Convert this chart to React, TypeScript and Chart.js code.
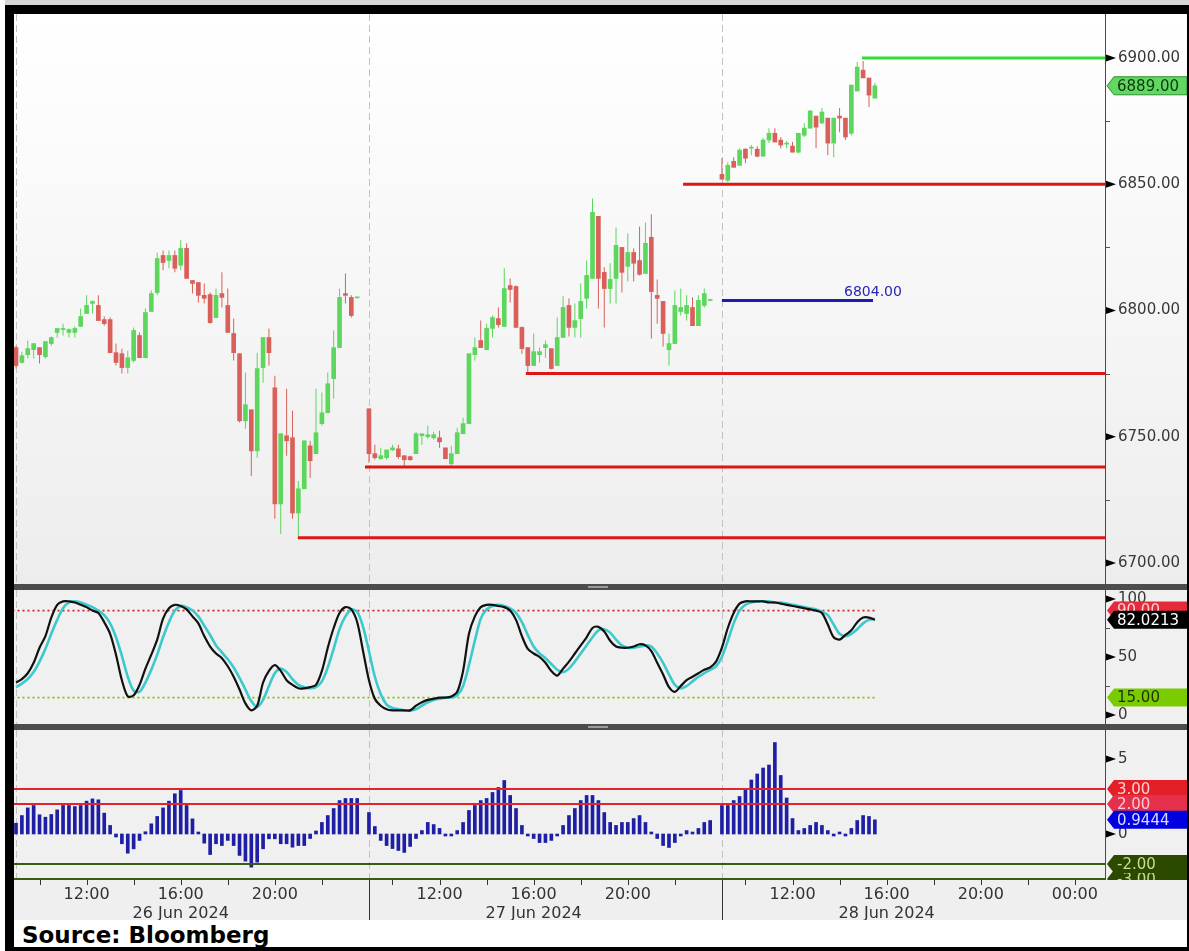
import React, { useEffect, useRef } from 'react';
import { Chart, registerables } from 'chart.js';

Chart.register(...registerables);

const FONT = '"DejaVu Sans", "Liberation Sans", sans-serif';

// ---- time axis (trading hours from 26 Jun 09:00, 15h sessions) ----
const HOURS_PER_BAR = 0.25;
const X_MIN = -0.085;
const X_MAX = 46.28;
const DAY_STARTS = [0, 15, 30];
const DAY_BREAKS = [15, 30];
const X_TICKS = [3, 7, 11, 18, 22, 26, 33, 37, 41, 45];
const X_TIME_LABELS = ['12:00', '16:00', '20:00', '12:00', '16:00', '20:00', '12:00', '16:00', '20:00', '00:00'];
const X_DATE_LABELS = ['', '26 Jun 2024', '', '', '27 Jun 2024', '', '', '28 Jun 2024', '', ''];
const X_MINOR = [1, 3, 5, 7, 9, 11, 13, 16, 18, 20, 22, 24, 26, 28, 31, 33, 35, 37, 39, 41, 43, 45];

// ---- candles (15 min) ----
const OPEN = [
  6785.3, 6779.4, 6782.5, 6784.5, 6785.3, 6781.7, 6786.9, 6791.3, 6792.5, 6791.3,
  6791.3, 6793.7, 6798.8, 6802.8, 6802.0, 6796.4, 6796.4, 6783.3, 6782.9, 6777.4,
  6780.2, 6790.1, 6781.3, 6799.6, 6807.1, 6821.8, 6819.8, 6821.8, 6817.9, 6824.6,
  6811.9, 6811.1, 6806.0, 6806.3, 6797.2, 6806.7, 6802.0, 6790.9, 6782.9, 6756.3,
  6760.7, 6744.4, 6777.4, 6789.3, 6769.4, 6723.4, 6750.4, 6749.6, 6719.8, 6729.4,
  6746.4, 6743.3, 6755.2, 6759.5, 6773.0, 6785.3, 6806.7, 6805.2, 6805.0, null,
  6761.1, 6743.3, 6741.3, 6741.7, 6744.8, 6745.2, 6742.5, 6742.1, 6743.3, 6750.4,
  6750.0, 6749.6, 6749.6, 6745.6, 6739.3, 6743.3, 6751.2, 6755.2, 6782.5, 6788.1,
  6784.5, 6792.9, 6796.8, 6793.7, 6809.9, 6809.5, 6793.3, 6785.3, 6778.2, 6782.5,
  6785.3, 6784.9, 6778.2, 6789.3, 6802.0, 6793.3, 6796.8, 6804.8, 6812.7, 6837.3,
  6815.1, 6808.7, 6812.7, 6825.0, 6817.5, 6823.0, 6819.8, 6814.7, 6829.0, 6806.0,
  6803.6, 6784.5, 6786.9, 6799.6, 6798.8, 6801.2, 6794.0, 6802.0, 6804.0, null,
  6853.9, 6851.6, 6859.1, 6857.5, 6863.9, 6864.3, 6863.9, 6861.1, 6867.5, 6870.2,
  6867.5, 6865.9, 6865.1, 6862.7, 6869.4, 6872.2, 6877.0, 6874.2, 6876.2, 6866.3,
  6877.0, 6876.2, 6870.2, 6886.9, 6895.2, 6892.1, 6884.1,
];
const HIGH = [
  6786.0, 6783.7, 6788.1, 6786.9, 6785.3, 6787.7, 6789.7, 6792.9, 6794.8, 6792.9,
  6793.7, 6800.8, 6806.0, 6804.0, 6806.0, 6797.6, 6797.2, 6786.9, 6784.9, 6784.1,
  6793.3, 6791.3, 6800.8, 6808.0, 6823.0, 6823.8, 6823.8, 6823.8, 6827.8, 6826.6,
  6811.9, 6811.1, 6810.7, 6807.1, 6808.7, 6815.1, 6808.7, 6796.8, 6782.9, 6775.4,
  6760.7, 6783.3, 6789.3, 6792.9, 6774.2, 6751.2, 6769.0, 6760.3, 6732.5, 6748.4,
  6748.4, 6769.0, 6767.5, 6775.4, 6792.1, 6808.7, 6814.7, 6806.0, 6805.4, null,
  6761.1, 6746.8, 6745.6, 6744.8, 6746.8, 6746.8, 6742.5, 6742.5, 6752.0, 6751.2,
  6754.4, 6752.0, 6752.4, 6745.6, 6746.4, 6753.6, 6757.5, 6782.9, 6789.3, 6796.0,
  6794.8, 6798.0, 6801.2, 6816.7, 6812.7, 6809.9, 6793.7, 6785.3, 6790.9, 6785.3,
  6788.1, 6784.9, 6797.2, 6805.6, 6804.8, 6802.8, 6810.7, 6819.8, 6844.4, 6837.3,
  6817.1, 6818.7, 6832.9, 6825.0, 6830.6, 6824.6, 6833.3, 6834.9, 6838.1, 6812.3,
  6803.6, 6790.9, 6807.9, 6808.7, 6806.0, 6805.2, 6806.0, 6808.7, 6804.6, null,
  6860.3, 6858.7, 6860.7, 6864.3, 6864.3, 6865.5, 6865.1, 6868.3, 6872.2, 6872.2,
  6868.7, 6867.1, 6866.7, 6870.2, 6874.2, 6879.4, 6877.0, 6880.2, 6876.2, 6876.2,
  6880.2, 6876.2, 6889.3, 6898.4, 6898.8, 6892.1, 6890.1,
];
const LOW = [
  6777.0, 6779.0, 6781.0, 6781.0, 6779.0, 6781.0, 6786.0, 6789.3, 6790.1, 6789.3,
  6789.3, 6793.7, 6798.8, 6798.8, 6796.0, 6794.0, 6783.3, 6778.2, 6775.0, 6775.0,
  6779.4, 6781.3, 6781.3, 6799.6, 6806.0, 6815.9, 6816.7, 6815.1, 6815.9, 6812.7,
  6806.7, 6803.2, 6802.8, 6794.8, 6797.2, 6801.2, 6791.3, 6780.2, 6755.6, 6753.2,
  6734.5, 6741.7, 6771.4, 6778.2, 6717.5, 6711.5, 6742.5, 6717.5, 6709.5, 6729.4,
  6733.7, 6743.3, 6754.4, 6759.5, 6765.0, 6785.3, 6802.8, 6797.2, 6804.8, null,
  6739.7, 6740.9, 6740.9, 6740.9, 6744.4, 6741.3, 6738.5, 6740.5, 6743.3, 6746.8,
  6749.2, 6748.8, 6745.6, 6741.3, 6738.5, 6743.3, 6751.2, 6755.2, 6780.2, 6785.3,
  6784.5, 6789.3, 6793.3, 6793.7, 6803.2, 6793.3, 6782.9, 6775.0, 6778.2, 6779.4,
  6781.3, 6776.6, 6778.2, 6789.3, 6789.7, 6789.3, 6789.3, 6800.8, 6812.7, 6800.8,
  6793.3, 6802.8, 6802.8, 6807.1, 6811.5, 6811.5, 6813.9, 6814.7, 6788.9, 6794.8,
  6785.7, 6778.2, 6786.9, 6798.0, 6796.0, 6794.0, 6794.0, 6801.2, 6803.6, null,
  6852.0, 6850.8, 6856.7, 6857.5, 6858.3, 6861.5, 6860.7, 6861.1, 6866.3, 6866.7,
  6864.3, 6864.3, 6862.7, 6862.3, 6868.7, 6872.2, 6864.3, 6874.2, 6861.5, 6860.7,
  6870.6, 6867.5, 6869.4, 6886.9, 6892.1, 6880.6, 6884.1,
];
const CLOSE = [
  6778.2, 6782.1, 6784.9, 6786.9, 6782.5, 6787.7, 6789.3, 6792.9, 6792.9, 6792.5,
  6792.9, 6797.6, 6802.0, 6803.6, 6796.0, 6794.8, 6783.3, 6779.4, 6777.4, 6781.3,
  6792.1, 6781.3, 6799.2, 6806.7, 6820.6, 6819.0, 6821.8, 6816.7, 6824.6, 6812.7,
  6810.7, 6806.0, 6804.8, 6795.2, 6806.0, 6805.2, 6791.3, 6783.3, 6756.3, 6762.7,
  6744.4, 6777.0, 6789.3, 6783.3, 6723.4, 6751.2, 6748.4, 6719.8, 6729.4, 6748.4,
  6740.5, 6751.6, 6759.5, 6771.0, 6785.3, 6805.2, 6806.0, 6798.0, 6805.2, null,
  6743.3, 6741.7, 6742.5, 6744.8, 6745.6, 6742.1, 6740.9, 6740.9, 6751.2, 6751.2,
  6750.8, 6750.8, 6748.0, 6741.3, 6743.3, 6751.6, 6755.2, 6782.9, 6785.3, 6785.3,
  6792.9, 6797.2, 6794.4, 6808.7, 6808.3, 6793.3, 6784.9, 6778.2, 6783.7, 6783.7,
  6786.5, 6777.0, 6789.3, 6801.2, 6793.3, 6796.0, 6803.6, 6813.9, 6838.9, 6812.7,
  6808.7, 6812.3, 6825.8, 6815.1, 6823.0, 6818.7, 6814.3, 6826.6, 6807.5, 6804.8,
  6790.9, 6786.9, 6802.0, 6801.2, 6802.0, 6794.0, 6804.0, 6806.7, 6804.2, null,
  6852.0, 6857.5, 6856.7, 6863.5, 6860.3, 6864.7, 6861.1, 6867.5, 6870.2, 6866.7,
  6865.5, 6866.3, 6862.7, 6870.2, 6872.2, 6879.0, 6872.6, 6878.6, 6866.3, 6876.2,
  6876.2, 6868.7, 6889.3, 6896.4, 6892.1, 6885.3, 6889.0,
];

// ---- horizontal levels on the price panel ----
const LEVEL_PRICES = [6900, 6850, 6804, 6775, 6738, 6710];
const LEVEL_FROM = [35.95, 28.35, 30.0, 21.67, 14.83, 11.98];
const LEVEL_TO = [47, 47, 36.42, 47, 47, 47];
const LEVEL_KIND = ['high', 'support', 'last', 'support', 'support', 'support'];
const LEVEL_LABEL_TEXT = '6804.00';
const PRICE_TICKS = [6700, 6750, 6800, 6850, 6900];
const PRICE_MINOR = [6725, 6775, 6825, 6875];
const LAST_PRICE = 6889;

// ---- stochastic ----
const STOCH_K = [
  28, 31, 36, 45, 58, 68, 84, 95, 98, 98, 97, 95, 93, 90, 88, 80, 70, 52, 30, 16,
  17, 26, 40, 52, 65, 83, 92, 95, 94, 91, 85, 79, 68, 59, 53, 49, 42, 33, 22, 10,
  4, 8, 28, 38, 43, 38, 30, 26, 23, 23, 24, 26, 38, 58, 75, 88, 93, 91, 80, 55,
  30, 14, 8, 5, 4, 4, 4, 4, 8, 11, 13, 14, 15, 15, 16, 20, 38, 70, 85, 93,
  95, 95, 94, 93, 90, 82, 68, 57, 53, 50, 45, 38, 34, 40, 46, 53, 60, 67, 75, 76,
  72, 64, 59, 58, 58, 59, 61, 60, 55, 45, 35, 24, 20, 25, 30, 33, 36, 39, 41, 46,
  58, 75, 88, 96, 98, 98, 98, 98, 97, 97, 96, 95, 94, 93, 92, 91, 90, 88, 78, 67,
  65, 69, 73, 80, 84, 84, 82.02,
];
const STOCH_D = [
  24, 27, 31, 37, 46, 57, 70, 82, 92, 97, 98, 97, 95, 93, 90, 86, 79, 67, 51, 33,
  21, 20, 28, 39, 52, 67, 80, 90, 94, 93, 90, 85, 77, 69, 60, 54, 48, 41, 32, 22,
  12, 7, 13, 25, 36, 40, 37, 31, 26, 24, 23, 24, 29, 41, 57, 74, 85, 91, 89, 76,
  55, 33, 18, 9, 6, 5, 4, 4, 5, 8, 11, 13, 14, 15, 15, 17, 25, 43, 64, 83,
  91, 94, 95, 94, 92, 88, 80, 69, 59, 53, 49, 44, 39, 37, 40, 46, 53, 60, 67, 73,
  74, 71, 65, 60, 58, 58, 59, 60, 59, 53, 45, 35, 26, 23, 25, 29, 33, 36, 39, 42,
  50, 64, 79, 90, 95, 97, 98, 98, 98, 97, 97, 96, 95, 94, 93, 92, 91, 89, 86, 78,
  70, 68, 70, 74, 79, 82, 83,
];
const STOCH_TICKS = [0, 50, 100];
const STOCH_MINOR = [25, 75];
const STOCH_UPPER = 90;
const STOCH_LOWER = 15;
const STOCH_LINE_END = 36.5;
const STOCH_LAST_TEXT = '82.0213';

// ---- histogram oscillator ----
const HIST = [
  0.72, 1.23, 1.74, 1.9, 1.28, 1.12, 1.3, 1.61, 1.9, 1.9,
  1.83, 1.9, 2.19, 2.34, 2.28, 1.39, 0.57, -0.2, -0.65, -1.28,
  -0.99, -0.43, 0.15, 0.68, 1.17, 1.74, 2.19, 2.68, 2.9, 1.9,
  1.01, 0.05, -0.61, -1.37, -0.65, -0.77, -0.43, -0.77, -1.43, -1.81,
  -2.21, -1.88, -0.99, -0.32, -0.32, -0.65, -0.65, -0.88, -0.77, -0.77,
  -0.3, 0.2, 0.77, 1.23, 1.7, 2.23, 2.37, 2.37, 2.37, null,
  1.43, 0.5, -0.43, -0.77, -0.97, -1.1, -1.23, -0.83, -0.3, 0.23,
  0.77, 0.63, 0.37, -0.1, -0.1, 0.23, 0.77, 1.57, 1.9, 2.23,
  2.37, 2.77, 3.1, 3.57, 2.57, 1.7, 0.57, -0.1, -0.3, -0.57,
  -0.57, -0.43, -0.1, 0.57, 1.23, 1.7, 2.23, 2.57, 2.57, 2.23,
  1.43, 0.77, 0.57, 0.77, 0.77, 1.03, 1.23, 0.77, 0.1, -0.3,
  -0.77, -0.9, -0.57, -0.1, 0.23, 0.1, 0.37, 0.77, 0.9, null,
  1.9, 1.9, 2.23, 2.5, 3.0, 3.6, 4.0, 4.4, 4.6, 6.1,
  3.9, 2.4, 1.03, 0.23, 0.37, 0.57, 0.77, 0.57, 0.23, -0.1,
  0.02, -0.05, 0.37, 0.9, 1.23, 1.17, 0.9444,
];
const HIST_TICKS = [0, 5];
const HIST_LEVELS = [3, 2, -2, -3];
const HIST_LAST_TEXT = '0.9444';

// ---- styles ----
const UP = '#5cd65c';
const DOWN = '#d9605a';
const LEVEL_COLOR: Record<string, string> = { high: '#33dd33', support: '#e01515', last: '#1c1cae' };

const barTime = (i: number) => i * HOURS_PER_BAR;

type Tag = { value: number; text: string; fill: string; color: string; stroke?: string };

function drawTag(ctx: CanvasRenderingContext2D, right: number, width: number, y: number, tag: Tag) {
  const h = 18;
  ctx.beginPath();
  ctx.moveTo(right + 2, y);
  ctx.lineTo(right + 9, y - h / 2);
  ctx.lineTo(width, y - h / 2);
  ctx.lineTo(width, y + h / 2);
  ctx.lineTo(right + 9, y + h / 2);
  ctx.closePath();
  ctx.fillStyle = tag.fill;
  ctx.fill();
  if (tag.stroke) {
    ctx.strokeStyle = tag.stroke;
    ctx.lineWidth = 1;
    ctx.stroke();
  }
  ctx.fillStyle = tag.color;
  ctx.font = '15px ' + FONT;
  ctx.textAlign = 'left';
  ctx.textBaseline = 'middle';
  ctx.fillText(tag.text, right + 12, y + 1);
}

type PanelCfg = {
  gradient?: boolean;
  bg: string;
  ticks: number[];
  minor: number[];
  tags: Tag[];
  xAxis?: boolean;
  extra?: (chart: any) => void;
};

function panelPlugin(cfg: PanelCfg) {
  return {
    id: 'panelDecor',
    beforeDraw(chart: any) {
      const { ctx, chartArea, width, height } = chart;
      ctx.save();
      if (cfg.gradient) {
        const g = ctx.createLinearGradient(0, 0, 0, chartArea.bottom);
        g.addColorStop(0, '#ffffff');
        g.addColorStop(1, '#ededed');
        ctx.fillStyle = g;
      } else {
        ctx.fillStyle = cfg.bg;
      }
      ctx.fillRect(0, 0, width, chartArea.bottom);
      if (chartArea.bottom < height) {
        ctx.fillStyle = '#efefef';
        ctx.fillRect(0, chartArea.bottom, width, height - chartArea.bottom);
      }
      const xs = chart.scales.x;
      ctx.strokeStyle = '#c2c2c2';
      ctx.lineWidth = 1;
      ctx.setLineDash([7, 4]);
      for (const d of DAY_STARTS) {
        const px = Math.round(xs.getPixelForValue(d)) + 0.5;
        ctx.beginPath();
        ctx.moveTo(px, chartArea.top);
        ctx.lineTo(px, chartArea.bottom);
        ctx.stroke();
      }
      ctx.restore();
    },
    afterDatasetsDraw(chart: any) {
      if (cfg.extra) cfg.extra(chart);
    },
    afterDraw(chart: any) {
      const { ctx, chartArea, width, height } = chart;
      const ys = chart.scales.y;
      const xs = chart.scales.x;
      const right = Math.round(chartArea.right);
      ctx.save();
      ctx.strokeStyle = '#4a4a4a';
      ctx.lineWidth = 1;
      ctx.beginPath();
      ctx.moveTo(right + 0.5, 0);
      ctx.lineTo(right + 0.5, chartArea.bottom);
      ctx.stroke();
      ctx.fillStyle = '#000';
      for (const v of cfg.ticks) {
        const y = ys.getPixelForValue(v);
        ctx.beginPath();
        ctx.moveTo(right + 1, y - 3.5);
        ctx.lineTo(right + 11, y);
        ctx.lineTo(right + 1, y + 3.5);
        ctx.closePath();
        ctx.fill();
      }
      ctx.strokeStyle = '#555';
      for (const v of cfg.minor) {
        const y = Math.round(ys.getPixelForValue(v)) + 0.5;
        ctx.beginPath();
        ctx.moveTo(right + 1, y);
        ctx.lineTo(right + 5, y);
        ctx.stroke();
      }
      if (cfg.xAxis) {
        ctx.strokeStyle = '#333';
        for (const t of X_MINOR) {
          const px = Math.round(xs.getPixelForValue(t)) + 0.5;
          ctx.beginPath();
          ctx.moveTo(px, chartArea.bottom);
          ctx.lineTo(px, chartArea.bottom + 5);
          ctx.stroke();
        }
        for (const t of DAY_BREAKS) {
          const px = Math.round(xs.getPixelForValue(t)) + 0.5;
          ctx.beginPath();
          ctx.moveTo(px, chartArea.bottom);
          ctx.lineTo(px, height);
          ctx.stroke();
        }
      }
      ctx.beginPath();
      ctx.rect(right, chartArea.top, width - right, chartArea.bottom - chartArea.top);
      ctx.clip();
      for (const tag of cfg.tags) drawTag(ctx, right, width, ys.getPixelForValue(tag.value), tag);
      ctx.restore();
    },
  };
}

function yAxis(min: number, max: number, ticks: number[], fmt: (v: number) => string) {
  return {
    position: 'right',
    min,
    max,
    grid: { display: false, drawTicks: false },
    border: { display: false },
    ticks: { font: { family: FONT, size: 15 }, color: '#383838', padding: 13, callback: (v: any) => fmt(Number(v)) },
    afterBuildTicks: (axis: any) => {
      axis.ticks = ticks.map((v) => ({ value: v }));
    },
    afterFit: (axis: any) => {
      axis.width = 82;
      axis.paddingTop = 0;
      axis.paddingBottom = 0;
    },
  };
}

const baseOptions = {
  responsive: false,
  maintainAspectRatio: false,
  animation: false,
  events: [],
  layout: { padding: 0 },
  plugins: { legend: { display: false }, tooltip: { enabled: false } },
};

function mainConfig(): any {
  const ids = OPEN.map((_, i) => i).filter((i) => OPEN[i] !== null);
  const colors = ids.map((i) => ((CLOSE[i] as number) >= (OPEN[i] as number) ? UP : DOWN));
  const levels = LEVEL_PRICES.map((p, k) => ({
    type: 'line',
    data: [{ x: LEVEL_FROM[k], y: p }, { x: LEVEL_TO[k], y: p }],
    borderColor: LEVEL_COLOR[LEVEL_KIND[k]],
    borderWidth: 3,
    pointRadius: 0,
    fill: false,
    order: 0,
  }));
  const lastIdx = LEVEL_KIND.indexOf('last');
  return {
    type: 'bar',
    data: {
      datasets: [
        ...levels,
        {
          type: 'bar',
          data: ids.map((i) => ({ x: barTime(i), y: [OPEN[i], CLOSE[i]] })),
          backgroundColor: colors,
          barThickness: 4,
          grouped: false,
          minBarLength: 1,
          order: 1,
        },
        {
          type: 'bar',
          data: ids.map((i) => ({ x: barTime(i), y: [LOW[i], HIGH[i]] })),
          backgroundColor: colors,
          barThickness: 1,
          grouped: false,
          minBarLength: 1,
          inflateAmount: 0,
          order: 2,
        },
      ],
    },
    options: {
      ...baseOptions,
      scales: {
        x: { type: 'linear', min: X_MIN, max: X_MAX, display: false, offset: false },
        y: yAxis(6691.68, 6917.43, PRICE_TICKS, (v) => v.toFixed(2)),
      },
    },
    plugins: [
      panelPlugin({
        gradient: true,
        bg: '#fff',
        ticks: PRICE_TICKS,
        minor: PRICE_MINOR,
        tags: [{ value: LAST_PRICE, text: LAST_PRICE.toFixed(2), fill: '#62d862', color: '#0d3a0d', stroke: '#2f8f2f' }],
        extra: (chart: any) => {
          const { ctx } = chart;
          const x = chart.scales.x.getPixelForValue(LEVEL_TO[lastIdx]);
          const y = chart.scales.y.getPixelForValue(LEVEL_PRICES[lastIdx]);
          ctx.save();
          ctx.font = '14px ' + FONT;
          ctx.fillStyle = '#2626b4';
          ctx.textAlign = 'center';
          ctx.textBaseline = 'bottom';
          ctx.fillText(LEVEL_LABEL_TEXT, x, y - 1);
          ctx.restore();
        },
      }),
    ],
  };
}

function stochConfig(): any {
  const pts = (arr: (number | null)[]) => arr.map((v, i) => ({ x: barTime(i), y: v }));
  const dotted = (v: number, color: string) => ({
    type: 'line',
    data: [{ x: -1, y: v }, { x: STOCH_LINE_END, y: v }],
    borderColor: color,
    borderWidth: 1.6,
    borderDash: [2, 3],
    pointRadius: 0,
    fill: false,
    order: 3,
  });
  return {
    type: 'line',
    data: {
      datasets: [
        { data: pts(STOCH_K), borderColor: '#111111', borderWidth: 2.2, pointRadius: 0, tension: 0.3, spanGaps: true, fill: false, order: 0 },
        { data: pts(STOCH_D), borderColor: '#3cc9cc', borderWidth: 2.6, pointRadius: 0, tension: 0.3, spanGaps: true, fill: false, order: 1 },
        dotted(STOCH_UPPER, '#cc2626'),
        dotted(STOCH_LOWER, '#7cc400'),
      ],
    },
    options: {
      ...baseOptions,
      scales: {
        x: { type: 'linear', min: X_MIN, max: X_MAX, display: false, offset: false },
        y: yAxis(-7.76, 107.76, STOCH_TICKS, (v) => String(v)),
      },
    },
    plugins: [
      panelPlugin({
        bg: '#f0f0f0',
        ticks: STOCH_TICKS,
        minor: STOCH_MINOR,
        tags: [
          { value: STOCH_UPPER, text: STOCH_UPPER.toFixed(2), fill: '#e62a3c', color: '#ffd2d6' },
          { value: STOCH_K[STOCH_K.length - 1] as number, text: STOCH_LAST_TEXT, fill: '#000000', color: '#ffffff' },
          { value: STOCH_LOWER, text: STOCH_LOWER.toFixed(2), fill: '#7acc00', color: '#1a3300' },
        ],
      }),
    ],
  };
}

function histConfig(): any {
  const ids = HIST.map((_, i) => i).filter((i) => HIST[i] !== null);
  const levelColor = (v: number) => (v > 0 ? '#e0262c' : '#3d5a12');
  const levels = HIST_LEVELS.map((v) => ({
    type: 'line',
    data: [{ x: -1, y: v }, { x: 47, y: v }],
    borderColor: levelColor(v),
    borderWidth: 2,
    pointRadius: 0,
    fill: false,
    order: 0,
  }));
  return {
    type: 'bar',
    data: {
      datasets: [
        ...levels,
        {
          type: 'bar',
          data: ids.map((i) => ({ x: barTime(i), y: HIST[i] })),
          backgroundColor: '#1f1fa6',
          barThickness: 3,
          grouped: false,
          minBarLength: 2,
          order: 1,
        },
      ],
    },
    options: {
      ...baseOptions,
      scales: {
        x: {
          type: 'linear',
          min: X_MIN,
          max: X_MAX,
          offset: false,
          position: 'bottom',
          grid: { display: false, drawTicks: false },
          border: { display: false },
          ticks: {
            font: { family: FONT, size: 16 },
            color: '#333',
            padding: 5,
            autoSkip: false,
            maxRotation: 0,
            callback: (_v: any, index: number) =>
              X_DATE_LABELS[index] ? [X_TIME_LABELS[index], X_DATE_LABELS[index]] : X_TIME_LABELS[index],
          },
          afterBuildTicks: (axis: any) => {
            axis.ticks = X_TICKS.map((v) => ({ value: v }));
          },
          afterFit: (axis: any) => {
            axis.height = 40;
            axis.paddingLeft = 0;
            axis.paddingRight = 0;
          },
        },
        y: yAxis(-3.067, 6.933, HIST_TICKS, (v) => String(v)),
      },
    },
    plugins: [
      panelPlugin({
        bg: '#f0f0f0',
        ticks: HIST_TICKS,
        minor: [],
        xAxis: true,
        tags: [
          { value: HIST_LEVELS[0], text: HIST_LEVELS[0].toFixed(2), fill: '#e41e26', color: '#ffd0d0' },
          { value: HIST_LEVELS[1], text: HIST_LEVELS[1].toFixed(2), fill: '#e5304c', color: '#ffc8d2' },
          { value: HIST[HIST.length - 1] as number, text: HIST_LAST_TEXT, fill: '#0000e0', color: '#dcdcff' },
          { value: HIST_LEVELS[3], text: HIST_LEVELS[3].toFixed(2), fill: '#2b4a00', color: '#c8dc96' },
          { value: HIST_LEVELS[2], text: HIST_LEVELS[2].toFixed(2), fill: '#2b4a00', color: '#c8dc96' },
        ],
      }),
    ],
  };
}

const abs = (left: number, top: number, width: number, height: number, extra: any = {}) => ({
  position: 'absolute' as const,
  left,
  top,
  width,
  height,
  ...extra,
});

export default function App() {
  const mainRef = useRef<HTMLCanvasElement>(null);
  const stochRef = useRef<HTMLCanvasElement>(null);
  const histRef = useRef<HTMLCanvasElement>(null);

  useEffect(() => {
    const charts = [
      new Chart(mainRef.current as HTMLCanvasElement, mainConfig()),
      new Chart(stochRef.current as HTMLCanvasElement, stochConfig()),
      new Chart(histRef.current as HTMLCanvasElement, histConfig()),
    ];
    return () => charts.forEach((c) => c.destroy());
  }, []);

  return (
    <div style={abs(0, 0, 1189, 951, { background: '#ffffff', overflow: 'hidden' })}>
      <div style={abs(5, 0, 1184, 5, { background: '#d6d6d6' })} />
      <div style={abs(5, 5, 1184, 946, { background: '#000000' })} />
      <canvas ref={mainRef} width={1173} height={570} style={abs(14, 14, 1173, 570)} />
      <div style={abs(14, 584, 1173, 6, { background: '#4c4c4c' })} />
      <div style={abs(588, 586, 20, 2, { background: '#9a9a9a' })} />
      <canvas ref={stochRef} width={1173} height={134} style={abs(14, 590, 1173, 134)} />
      <div style={abs(14, 724, 1173, 6, { background: '#4c4c4c' })} />
      <div style={abs(588, 726, 20, 2, { background: '#9a9a9a' })} />
      <canvas ref={histRef} width={1173} height={190} style={abs(14, 730, 1173, 190)} />
      <div
        style={abs(14, 920, 1173, 27, {
          background: '#ffffff',
          fontFamily: FONT,
          fontWeight: 'bold',
          fontSize: 23,
          lineHeight: '31px',
          color: '#000',
          paddingLeft: 8,
          boxSizing: 'border-box',
          whiteSpace: 'nowrap',
          overflow: 'hidden',
        })}
      >
        Source: Bloomberg
      </div>
    </div>
  );
}
